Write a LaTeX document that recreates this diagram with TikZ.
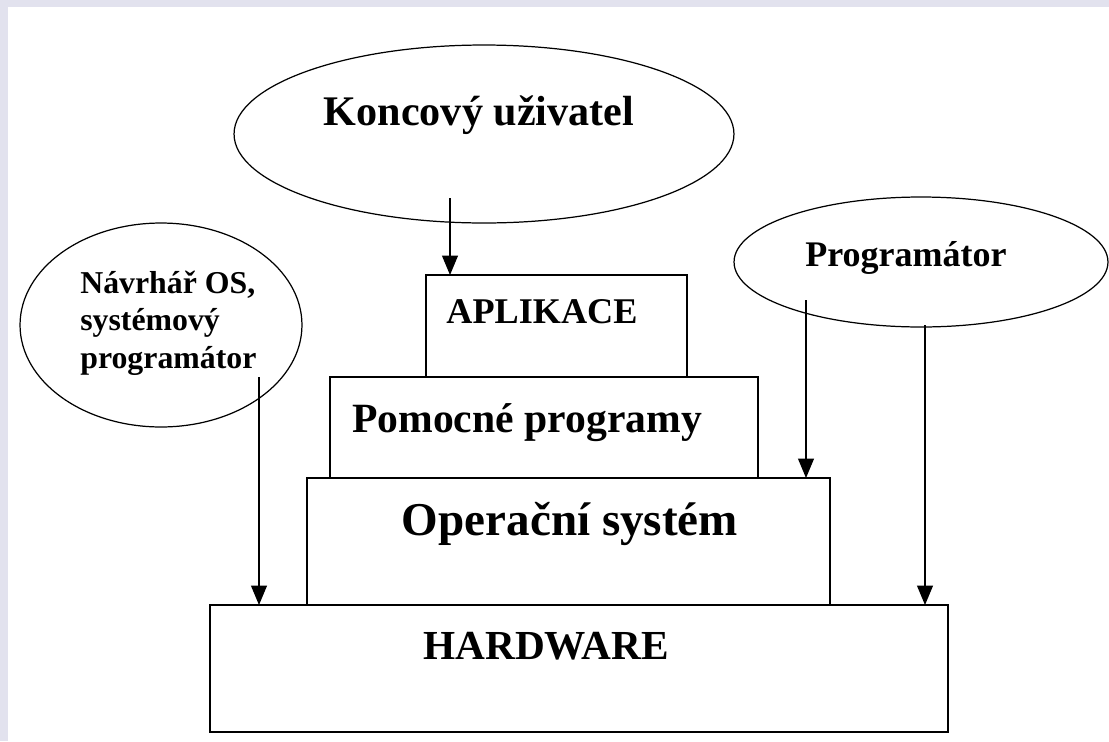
\documentclass[tikz,border=0pt]{standalone}
\usepackage{fontspec}
\setmainfont{Liberation Serif}
\usetikzlibrary{shapes.geometric, arrows.meta, positioning}
\definecolor{slidebg}{RGB}{226,226,238}

\begin{document}
\begin{tikzpicture}[
    x=0.02cm, y=-0.02cm,
    >={Triangle[width=9pt, length=11pt]},
    layer/.style={draw, line width=1.1pt, rectangle, inner sep=0pt, outer sep=0pt, anchor=north west},
    actor/.style={draw, line width=0.7pt, ellipse, inner sep=0pt, outer sep=0pt},
    lbl/.style={anchor=base, inner sep=0pt},
    flow/.style={->, line width=0.8pt},
]

% ============================================================
% Slide background
% ============================================================
\useasboundingbox (0,0) rectangle (1109,741);
\fill[slidebg] (0,0) rectangle (1109,741);
\fill[white] (8,7) rectangle (1109,741);

% ============================================================
% Layers (stacked boxes)
% ============================================================
\node[layer, minimum width=5.22cm, minimum height=2.04cm] (apl) at (426,275) {};
\node[layer, minimum width=8.56cm, minimum height=2.02cm] (pom) at (330,377) {};
\node[layer, minimum width=10.46cm, minimum height=2.54cm] (os) at (307,478) {};
\node[layer, minimum width=14.76cm, minimum height=2.54cm] (hw) at (210,605) {};

\node[lbl, font=\fontsize{20.6}{24}\selectfont\bfseries] (aplText) at (542,323) {APLIKACE};
\node[lbl, font=\fontsize{23.7}{28}\selectfont\bfseries] (pomText) at (527,432) {Pomocné programy};
\node[lbl, font=\fontsize{26.8}{32}\selectfont\bfseries] (osText) at (570,535) {Operační systém};
\node[lbl, font=\fontsize{23.5}{28}\selectfont\bfseries] (hwText) at (546,659) {HARDWARE};

% ============================================================
% Users (ellipses)
% ============================================================
\node[actor, minimum width=10cm, minimum height=3.56cm] (user) at (484,134) {};
\node[lbl, font=\fontsize{24}{28}\selectfont\bfseries] (userText) at (479,125) {Koncový uživatel};

\node[actor, minimum width=5.64cm, minimum height=4.08cm] (osdev) at (161,325) {};
\node[lbl, anchor=base west, align=left, font=\fontsize{18.1}{21.3}\selectfont\bfseries]
    (osdevText) at (80,368) {Návrhář OS,\\systémový\\programátor};

\node[actor, minimum width=7.48cm, minimum height=2.6cm] (prog) at (921,262) {};
\node[lbl, font=\fontsize{20.5}{24}\selectfont\bfseries] (progText) at (906,266) {Programátor};

% ============================================================
% Arrows down to the layers
% ============================================================
\coordinate (userTail) at (450,198);
\draw[flow] (userTail) -- (userTail |- apl.north);

\coordinate (osdevTail) at (259,377);
\draw[flow] (osdevTail) -- (osdevTail |- hw.north);

\coordinate (progTailA) at (806,300);
\draw[flow] (progTailA) -- (progTailA |- os.north);

\coordinate (progTailB) at (925,325);
\draw[flow] (progTailB) -- (progTailB |- hw.north);

\end{tikzpicture}
\end{document}
